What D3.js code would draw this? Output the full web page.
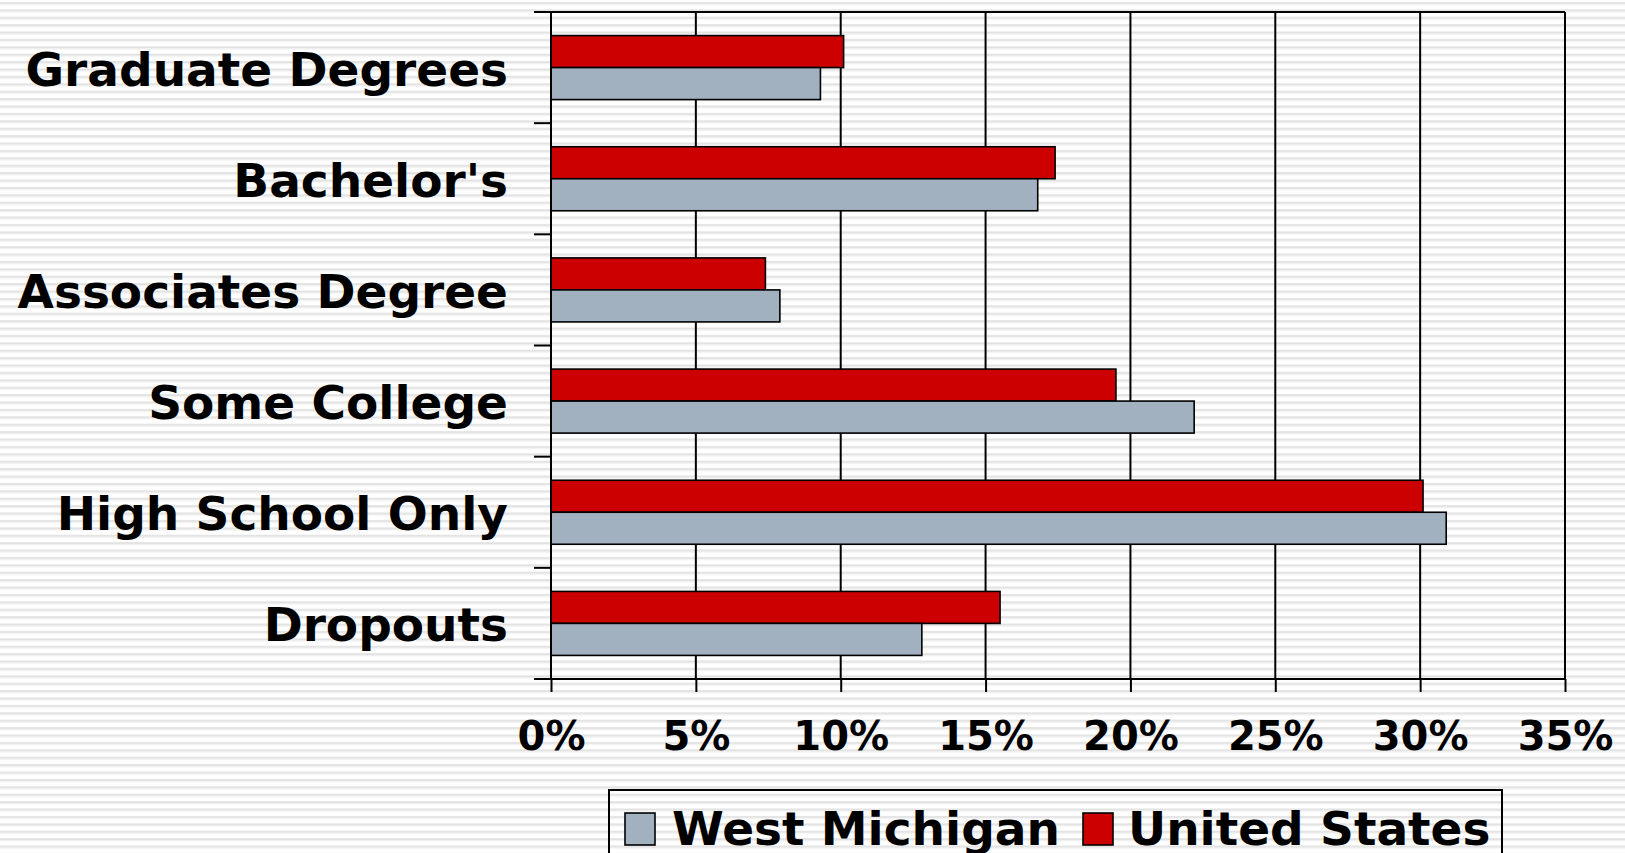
<!doctype html>
<html>
<head>
<meta charset="utf-8">
<script src="https://cdn.jsdelivr.net/npm/d3@7"></script>
<style>
  body { margin: 0; background: #fff; }
  text { font-family: "DejaVu Sans", Verdana, sans-serif; font-weight: bold; fill: #000; }
</style>
</head>
<body>
<script>

var categories = ["Graduate Degrees", "Bachelor's", "Associates Degree", "Some College", "High School Only", "Dropouts"];
var westMichigan = [9.3, 16.8, 7.9, 22.2, 30.9, 12.8];
var unitedStates = [10.1, 17.4, 7.4, 19.5, 30.1, 15.5];
var xTicks = [0, 5, 10, 15, 20, 25, 30, 35];
var seriesNames = ["West Michigan", "United States"];
var seriesColors = {"West Michigan": "#a2b1c0", "United States": "#cc0000"};

var W = 1625, H = 853;
var plotL = 551, plotR = 1565, plotT = 12, plotB = 679;

var svg = d3.select("body").append("svg").attr("width", W).attr("height", H);

// striped backdrop
var pat = svg.append("defs").append("pattern")
  .attr("id", "stripes").attr("patternUnits", "userSpaceOnUse")
  .attr("width", 8).attr("height", 7.4);
pat.append("rect").attr("width", 8).attr("height", 7.4).attr("fill", "#fff");
pat.append("rect").attr("y", 2).attr("width", 8).attr("height", 2).attr("fill", "#e2e2e2");
pat.append("rect").attr("y", 4).attr("width", 8).attr("height", 1).attr("fill", "#eeeeee");
svg.append("rect").attr("width", W).attr("height", H).attr("fill", "url(#stripes)");

var x = d3.scaleLinear().domain([0, 35]).range([plotL, plotR]);
var y = d3.scaleBand().domain(categories).range([plotT, plotB]).padding(0);
// US on top, WM below
var sub = d3.scaleBand().domain(["United States", "West Michigan"])
  .range([0, y.bandwidth()]).paddingInner(0).paddingOuter(0.737);

// vertical gridlines
svg.append("g").selectAll("line")
  .data(xTicks.slice(1))
  .enter().append("line")
    .attr("x1", function(d){ return x(d); })
    .attr("x2", function(d){ return x(d); })
    .attr("y1", plotT).attr("y2", plotB)
    .attr("stroke", "#000").attr("stroke-width", 2);

// top border
svg.append("line")
  .attr("x1", plotL - 17).attr("x2", plotR)
  .attr("y1", plotT).attr("y2", plotT)
  .attr("stroke", "#000").attr("stroke-width", 2);

// bars
var rows = categories.map(function(c, i){
  return {cat: c, vals: [
    {name: "United States", v: unitedStates[i]},
    {name: "West Michigan", v: westMichigan[i]}
  ]};
});

svg.append("g").selectAll("g")
  .data(rows)
  .enter().append("g")
    .attr("transform", function(d){ return "translate(0," + y(d.cat) + ")"; })
  .selectAll("rect")
  .data(function(d){ return d.vals; })
  .enter().append("rect")
    .attr("x", x(0))
    .attr("y", function(d){ return sub(d.name); })
    .attr("width", function(d){ return x(d.v) - x(0); })
    .attr("height", sub.bandwidth())
    .attr("fill", function(d){ return seriesColors[d.name]; })
    .attr("stroke", "#000").attr("stroke-width", 1.6);

// x axis
var xAxis = d3.axisBottom(x)
  .tickValues(xTicks)
  .tickFormat(function(d){ return d + "%"; })
  .tickSize(13).tickPadding(30);
var gx = svg.append("g").attr("transform", "translate(0," + plotB + ")").call(xAxis);
gx.select(".domain").remove();
gx.selectAll(".tick line").attr("stroke", "#000").attr("stroke-width", 2);
gx.selectAll(".tick text").attr("font-size", 40).attr("fill", "#000")
  .attr("font-family", "DejaVu Sans").attr("font-weight", "bold");
gx.append("line").attr("x1", plotL - 17).attr("x2", plotR).attr("y1", 0).attr("y2", 0)
  .attr("stroke", "#000").attr("stroke-width", 2);

// y axis
var boundaries = categories.map(function(c){ return y(c); }).concat([plotB]);
var gy = svg.append("g");
gy.append("line").attr("x1", plotL).attr("x2", plotL).attr("y1", plotT).attr("y2", plotB)
  .attr("stroke", "#000").attr("stroke-width", 2);
gy.selectAll("line.tk")
  .data(boundaries)
  .enter().append("line").attr("class", "tk")
    .attr("x1", plotL - 17).attr("x2", plotL)
    .attr("y1", function(d){ return d; }).attr("y2", function(d){ return d; })
    .attr("stroke", "#000").attr("stroke-width", 2);
gy.selectAll("text")
  .data(categories)
  .enter().append("text")
    .attr("x", 508)
    .attr("y", function(d){ return y(d) + y.bandwidth() / 2 + 18; })
    .attr("text-anchor", "end")
    .attr("font-size", 47)
    .text(function(d){ return d; });

// legend
var lg = svg.append("g");
lg.append("rect").attr("x", 609).attr("y", 790).attr("width", 893).attr("height", 80)
  .attr("fill", "none").attr("stroke", "#000").attr("stroke-width", 2);
var legendPos = [{sx: 625, tx: 672}, {sx: 1083, tx: 1128}];
seriesNames.forEach(function(s, i){
  lg.append("rect").attr("x", legendPos[i].sx).attr("y", 813).attr("width", 30).attr("height", 32)
    .attr("fill", seriesColors[s]).attr("stroke", "#000").attr("stroke-width", 1.6);
  lg.append("text").attr("x", legendPos[i].tx).attr("y", 845).attr("font-size", 47).text(s);
});

</script>
</body>
</html>
